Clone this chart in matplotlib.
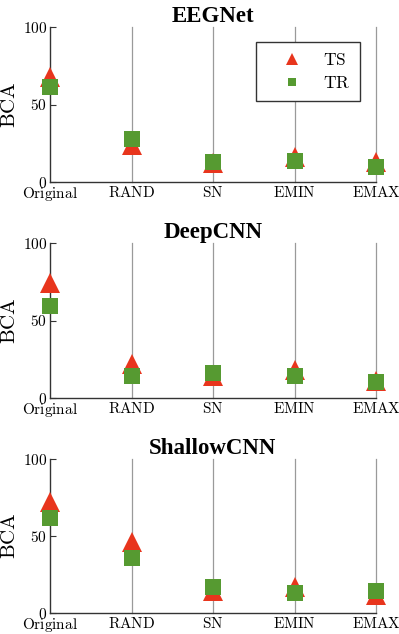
import numpy as np
import matplotlib
matplotlib.use('Agg')
import matplotlib.pyplot as plt

methods = ['Original', 'RAND', 'SN', 'EMIN', 'EMAX']
models = ['EEGNet', 'DeepCNN', 'ShallowCNN']

ts_eegnet = [68, 24, 12, 16, 13]
tr_eegnet = [61, 28, 13, 13.5, 9.5]
ts_deepcnn = [74, 22, 14, 18, 11]
tr_deepcnn = [59.5, 14, 16, 14.5, 10.5]
ts_shallow = [72, 46, 14, 17, 12]
tr_shallow = [62, 36, 17, 13, 14]

ts_all = [ts_eegnet, ts_deepcnn, ts_shallow]
tr_all = [tr_eegnet, tr_deepcnn, tr_shallow]

red = '#e8351d'
green = '#569a31'

plt.rcParams['mathtext.fontset'] = 'cm'
plt.rcParams['font.family'] = ['DejaVu Serif']

def cm(s):
    return r'$\mathrm{' + s + '}$'

fig = plt.figure(figsize=(3.99, 6.34), dpi=100)
W, H = 399, 634
tops = [27, 243, 459]
bottoms = [182, 398, 613]
left, right = 50, 376

x = np.arange(1, len(methods) + 1)
for i in range(3):
    ax = fig.add_axes([left / W, 1 - bottoms[i] / H, (right - left) / W, (bottoms[i] - tops[i]) / H])
    for xi in x[1:]:
        ax.axvline(xi, color='#9a9a9a', lw=0.9, zorder=1, clip_on=False)
    ax.plot(x, ts_all[i], '^', color=red, ms=14.5, mew=0, clip_on=False, zorder=3, label=cm('TS'))
    ax.plot(x, tr_all[i], 's', color=green, ms=11.5, mew=0, clip_on=False, zorder=4, label=cm('TR'))
    ax.set_xlim(1, 5)
    ax.set_ylim(0, 100)
    ax.set_xticks(x)
    ax.set_xticklabels([cm(m) for m in methods])
    ax.set_yticks([0, 50, 100])
    ax.set_yticklabels([cm(str(v)) for v in [0, 50, 100]])
    ax.tick_params(direction='in', length=4, width=0.8, labelsize=11, pad=2, color='#333333')
    ax.tick_params(axis='x', length=0, pad=2.5)
    for s in ['top', 'right']:
        ax.spines[s].set_visible(False)
    for s in ['left', 'bottom']:
        ax.spines[s].set_color('#333333')
        ax.spines[s].set_linewidth(1.0)
    ax.set_ylabel(cm('BCA'), fontsize=15, labelpad=3)
    ax.set_title(models[i], fontsize=16.5, fontweight='bold', family='Liberation Serif', pad=3)
    if i == 0:
        leg = ax.legend(loc='upper right', bbox_to_anchor=(0.951, 0.903), fontsize=12.5,
                        markerscale=0.55, fancybox=False, framealpha=1, edgecolor='#333333',
                        handlelength=3.0, handletextpad=0.3, borderpad=0.55, labelspacing=0.35,
                        borderaxespad=0)
        leg.get_frame().set_linewidth(1.0)

fig.savefig('out.png', dpi=100)
